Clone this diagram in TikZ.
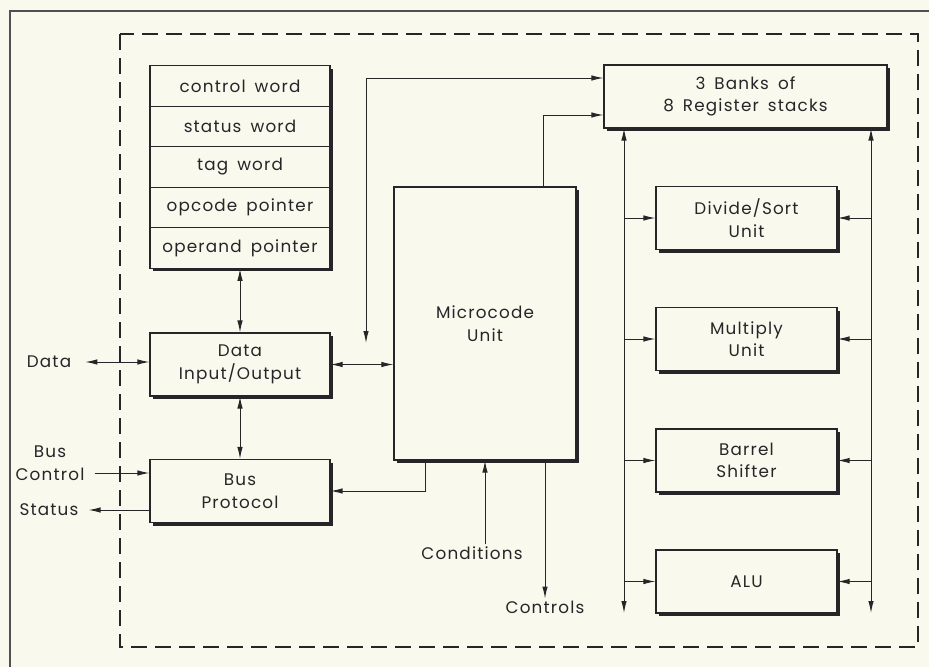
\documentclass[tikz,border=0pt]{standalone}
\usepackage{fontspec}
\setmainfont{Poppins}[LetterSpace=7,WordSpace=1.6]
\usetikzlibrary{arrows.meta,shadows}

\definecolor{paper}{RGB}{250,249,238}
\definecolor{ink}{RGB}{38,38,40}

\tikzset{
box/.style={draw=ink,line width=1.1pt,fill=paper,align=center,
general shadow={fill=ink,shadow xshift=3pt,shadow yshift=-3pt}},
row/.style={box,minimum width=180pt,minimum height=40.5pt},
unit/.style={box,minimum width=181pt,minimum height=63pt},
lbl/.style={align=center,inner sep=2pt},
wire/.style={draw=ink,line width=1pt}
}

\begin{document}
\begin{tikzpicture}[x=1pt,y=-1pt,>={Latex[length=12pt,width=5.5pt]},
font=\fontsize{16.8}{22.5}\selectfont,text=ink]

\fill[paper] (0,0) rectangle (929,667);
\useasboundingbox (0,0) rectangle (929,667);

% frame of the page and the chip
\draw[ink!80,line width=1.2pt]
(10,667)--(10,11)--(929,11);

\draw[ink,line width=1.1pt,dash pattern=on 16pt off 8pt]
(120,34) rectangle (918,647);

% register file
\node[row]
(A)
at (240,86)
{control word};

\node[row]
(B)
at (240,126.5)
{status word};

\node[row]
(C)
at (240,167)
{tag word};

\node[row]
(D)
at (240,207.5)
{opcode pointer};

\node[row]
(E)
at (240,248)
{operand pointer};

% left blocks
\node[unit,minimum width=180pt]
(F)
at (240,364.5)
{Data\\Input/Output};

\node[unit,minimum width=180pt]
(G)
at (240,491)
{Bus\\Protocol};

\node[box,minimum width=182pt,minimum height=273pt]
(H)
at (485,323.5)
{Microcode\\Unit};

% right blocks
\node[box,minimum width=283pt,minimum height=63pt]
(I)
at (745.5,96.5)
{3 Banks of\\8 Register stacks};

\node[unit]
(J)
at (746.5,218)
{Divide/Sort\\Unit};

\node[unit]
(K)
at (746.5,339)
{Multiply\\Unit};

\node[unit]
(L)
at (746.5,460.5)
{Barrel\\Shifter};

\node[unit]
(M)
at (746.5,581.5)
{ALU};

% outside signals
\node[lbl]
(Da)
at (49,362)
{Data};

\node[lbl]
(Bc)
at (50,463)
{Bus\\Control};

\node[lbl]
(St)
at (49,510)
{Status};

\node[lbl]
(Co)
at (472,553)
{Conditions};

\node[lbl]
(Ct)
at (545,607)
{Controls};

\coordinate (N) at (366,343);
\coordinate (P) at (624,613);
\coordinate (Q) at (871,613);

% connectors
\draw[wire,<->]
([xshift=12pt]Da.east)--(Da.east -| F.west);

\draw[wire,->]
([xshift=8pt]Bc.east |- 0,473)--(G.west |- 0,473);

\draw[wire,->]
(G.west |- St)--([xshift=8pt]St.east);

\draw[wire,<->]
(E.south)--(F.north);

\draw[wire,<->]
(F.south)--(G.north);

\draw[wire,<->]
(F.east)--(F.east -| H.west);

\draw[wire,<->]
(N)|-([yshift=18.5pt]I.west);

\draw[wire,->]
(H.north -| 543,0)|-([yshift=-18.5pt]I.west);

\draw[wire,->]
(H.south -| 425,0)|-(G.east);

\draw[wire,->]
(H.south |- Co.north)--(H.south);

\draw[wire,->]
(H.south -| Ct)--(Ct.north);

\draw[wire,<->]
(P)--(P |- I.south);

\draw[wire,<->]
(Q)--(Q |- I.south);

\draw[wire,->]
(P |- J)--(J.west);

\draw[wire,->]
(P |- K)--(K.west);

\draw[wire,->]
(P |- L)--(L.west);

\draw[wire,->]
(P |- M)--(M.west);

\draw[wire,->]
(Q |- J)--(J.east);

\draw[wire,->]
(Q |- K)--(K.east);

\draw[wire,->]
(Q |- L)--(L.east);

\draw[wire,->]
(Q |- M)--(M.east);

\end{tikzpicture}
\end{document}
